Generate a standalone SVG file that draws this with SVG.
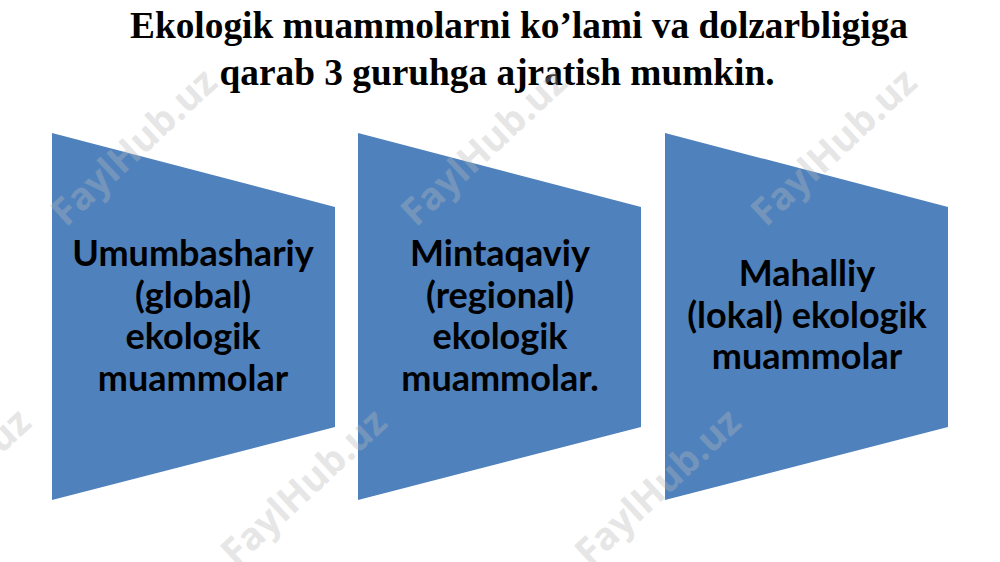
<svg xmlns="http://www.w3.org/2000/svg" width="1000" height="562" viewBox="0 0 1000 562">
<style>
.shape{fill:#4F81BD;}
.lbl{font-family:Lato,"Open Sans","DejaVu Sans",sans-serif;font-weight:bold;font-size:36px;fill:#000;text-anchor:middle;}
.title{font-family:"Liberation Serif","Times New Roman",serif;font-weight:bold;font-size:38px;fill:#000;text-anchor:middle;}
.wm{font-family:"Open Sans","DejaVu Sans",sans-serif;font-weight:bold;font-size:38px;fill:#b8b8b8;opacity:0.35;}
</style>
<rect width="1000" height="562" fill="#fff"/>
<g id="title">
<text class="title" x="519" y="38" textLength="778" lengthAdjust="spacingAndGlyphs">Ekologik muammolarni ko’lami va dolzarbligiga</text>
<text class="title" x="497" y="85" textLength="555" lengthAdjust="spacingAndGlyphs">qarab 3 guruhga ajratish mumkin.</text>
</g>
<g id="node1">
<polygon class="shape" points="52,133 335,207 335,427 52,500"/>
<text class="lbl" x="193" y="266">Umumbashariy</text>
<text class="lbl" x="193" y="308">(global)</text>
<text class="lbl" x="193" y="349">ekologik</text>
<text class="lbl" x="193" y="391">muammolar</text>
</g>
<g id="node2">
<polygon class="shape" points="358,133 641,207 641,427 358,500"/>
<text class="lbl" x="500" y="266">Mintaqaviy</text>
<text class="lbl" x="500" y="308">(regional)</text>
<text class="lbl" x="500" y="349">ekologik</text>
<text class="lbl" x="500" y="391">muammolar.</text>
</g>
<g id="node3">
<polygon class="shape" points="665,133 948,207 948,427 665,500"/>
<text class="lbl" x="807" y="286">Mahalliy</text>
<text class="lbl" x="807" y="328">(lokal) ekologik</text>
<text class="lbl" x="807" y="369">muammolar</text>
</g>
<g id="connectors"/>
<g id="watermarks">
<text class="wm" transform="translate(66,228) rotate(-43)">FaylHub.uz</text>
<text class="wm" transform="translate(416,228) rotate(-43)">FaylHub.uz</text>
<text class="wm" transform="translate(766,228) rotate(-43)">FaylHub.uz</text>
<text class="wm" transform="translate(-120,568) rotate(-43)">FaylHub.uz</text>
<text class="wm" transform="translate(236,568) rotate(-43)">FaylHub.uz</text>
<text class="wm" transform="translate(590,568) rotate(-43)">FaylHub.uz</text>
</g>
</svg>
